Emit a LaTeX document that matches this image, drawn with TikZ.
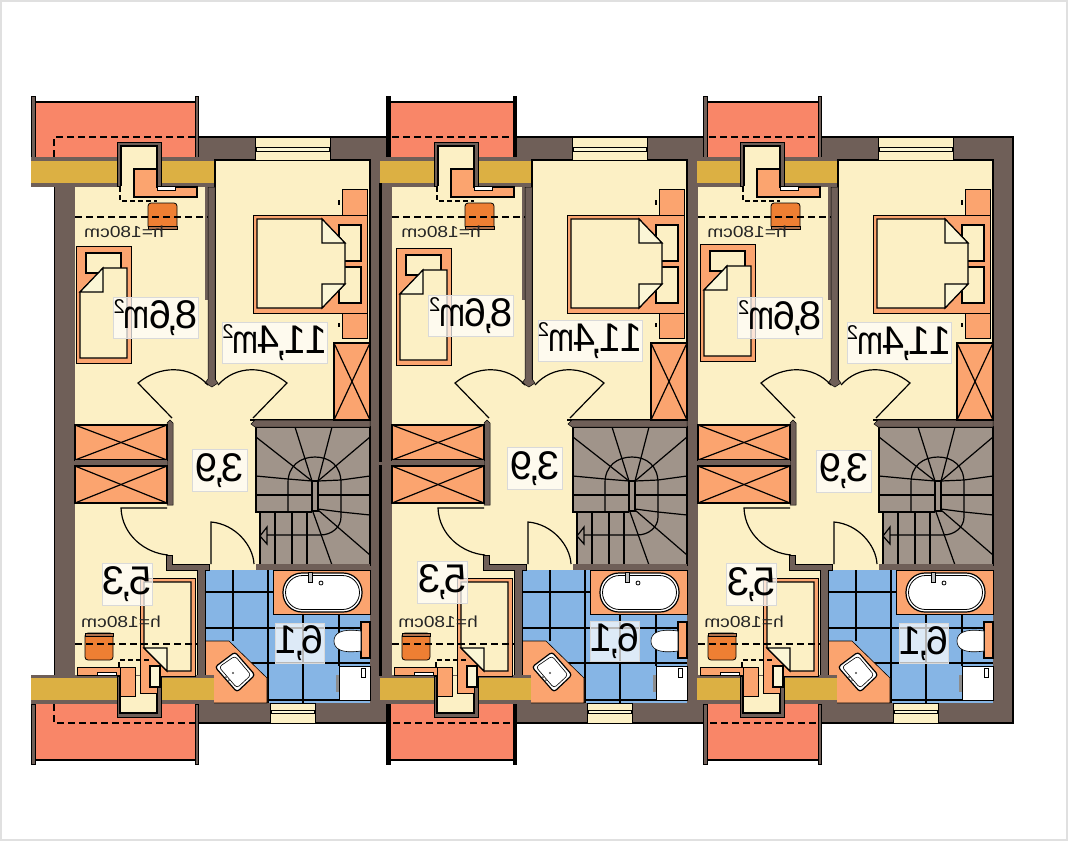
\documentclass[tikz,border=0pt]{standalone}
\usepackage{graphicx}
\usepackage{fontspec}
\setmainfont{Liberation Sans}
\definecolor{wallc}{HTML}{6F5F58}
\definecolor{creamc}{HTML}{FCF0C5}
\definecolor{foldc}{HTML}{FBF6D6}
\definecolor{salmonc}{HTML}{F98668}
\definecolor{goldc}{HTML}{DCB043}
\definecolor{orangec}{HTML}{FBA46F}
\definecolor{stovec}{HTML}{EE7F33}
\definecolor{bluec}{HTML}{86B5E5}
\definecolor{stairc}{HTML}{A0948A}
\tikzset{
  ln/.style={draw=black, line width=1.2pt},
  wallpart/.style={fill=wallc, draw=black, line width=.5pt},
  creampart/.style={fill=creamc, draw=black, line width=1.2pt},
  orangepart/.style={fill=orangec, draw=black, line width=1.2pt},
  dashline/.style={draw=black, line width=1.1pt, dash pattern=on 7pt off 4pt},
  areabox/.style={draw=black!15, line width=1pt, fill=white, fill opacity=.72, text opacity=1, inner sep=0pt},
  heightlabel/.style={inner sep=0pt, text=black!85}
}
\newcommand{\planc}{\kern-3.5pt\raisebox{-1.5pt}{,}\kern-3.5pt}
\newcommand{\areatext}[1]{\reflectbox{\fontsize{40}{40}\selectfont #1}}
\newcommand{\sqm}{\kern-1pt\scalebox{.78}[1]{m}\kern-1pt\raisebox{15pt}{\fontsize{20}{20}\selectfont 2}}
\newcommand{\heighttext}{\scalebox{-1.2}[1]{\fontsize{16}{16}\selectfont h=180cm}}

% balcony: left and right edge, post colour, left end of the dashes
\newcommand{\planbalcony}[4]{
  \fill[salmonc] (#1,102) rectangle (#2,160);
  \fill[salmonc] (#1,700) rectangle (#2,760);
  \draw[ln] (#1,102) -- (#2,102);
  \draw[ln] (#1,760) -- (#2,760);
  \draw[dashline] (#4,157) -- (#4,137) -- (#2,137);
  \draw[dashline] (#4,704) -- (#4,723) -- (#2,723);
  \draw[draw=black, line width=.5pt, fill=#3] (#1-4,96) rectangle (#1,157);
  \draw[draw=black, line width=.5pt, fill=#3] (#2,96) rectangle (#2+3,157);
  \draw[draw=black, line width=.5pt, fill=#3] (#1-4,704) rectangle (#1,764);
  \draw[draw=black, line width=.5pt, fill=#3] (#2,704) rectangle (#2+3,764);
}

% one dwelling: offset, band left edge, small bed dx, dy, big bed left dx
\newcommand{\planunit}[5]{
\begin{scope}[shift={(#1,0)}]
  % rooms
  \fill[creamc] (75,187) rectangle (205,676);
  \fill[creamc] (205,300) rectangle (370,570);
  \draw[creampart] (215,160) rectangle (370,420);
  \fill[creamc] (208,380) rectangle (250,430);
  \draw[wallpart] (208,187) -- (215,187) -- (215,379) -- (218,383) -- (212,387) -- (205,383) -- (208,379) -- cycle;

  % bathroom
  \fill[bluec] (205,570) rectangle (370,703);
  \draw[ln] (233,570) -- (233,641);
  \draw[ln] (268,570) -- (268,703);
  \draw[ln] (303,614) -- (303,703);
  \draw[ln] (339,614) -- (339,666);
  \draw[ln] (205,592) -- (273,592);
  \draw[ln] (205,628) -- (370,628);
  \draw[ln] (250,663) -- (370,663);
  \draw[ln] (267,700) -- (370,700);
  \draw[orangepart, line width=.6pt] (273,570) rectangle (370,614);
  \draw[ln, fill=white, rounded corners=19pt] (283,573) rectangle (362,612);
  \draw[draw=black, line width=.8pt, rounded corners=17pt] (285.5,575.5) rectangle (359.5,609.5);
  \draw[draw=black, line width=.5pt, fill=black!25] (308,572) rectangle (312,582);
  \draw[draw=black, line width=.8pt, fill=white] (321,583) circle (2);
  \draw[orangepart] (361,622) rectangle (370,658);
  \draw[draw=black, line width=.6pt, fill=white] (361,631) .. controls (340,628) and (334,634) .. (334,641) .. controls (334,648) and (340,654) .. (361,651) -- cycle;
  \draw[draw=black, line width=.8pt, fill=white] (339,666) rectangle (370,700);
  \draw[draw=black, line width=.6pt, fill=white] (361,668) rectangle (365,677);
  \fill[black!45] (336,675) rectangle (339,692);
  \draw[orangepart, line width=.6pt] (205,641) -- (229,641) -- (267,678) -- (267,703) -- (205,703) -- cycle;
  \draw[ln, fill=white, rounded corners=3pt] (215,667) -- (235,652) -- (255,675) -- (237,692) -- cycle;
  \draw[draw=black, line width=.6pt, rounded corners=3pt] (219,667) -- (235,656) -- (251,675) -- (237,688) -- cycle;
  \fill[black!70] (233,673) circle (1.2);
  \fill[black!70] (226,677) circle (1);
  \fill[black!70] (229,680) circle (1);

  % stairs
  \draw[ln, fill=stairc] (256,427) -- (370,427) -- (370,565) -- (260,565) -- (260,512) -- (256,512) -- cycle;
  \draw[ln] (256,512) -- (312,512);
  \draw[ln, fill=stairc] (312,481) rectangle (318,511);
  \draw[ln] (288,512) -- (288,483) .. controls (288,466) and (300,457) .. (315,457) .. controls (330,457) and (341,466) .. (341,483) -- (341,517) .. controls (341,527) and (332,535) .. (320,535) -- (267,535);
  \draw[ln] (260,536) -- (267,527) -- (267,544) -- cycle;
  \draw[ln] (312,481) -- (256,437);
  \draw[ln] (312,481) -- (295,427);
  \draw[ln] (318,481) -- (332,427);
  \draw[ln] (318,481) -- (370,437);
  \draw[ln] (312,481) -- (288,479) -- (256,476);
  \draw[ln] (318,481) -- (341,480) -- (370,476);
  \draw[ln] (256,495) -- (312,495);
  \draw[ln] (318,495) -- (370,495);
  \draw[ln] (318,509) -- (341,512) -- (370,515);
  \draw[ln] (318,510) -- (370,555);
  \draw[ln] (313,512) -- (332,565);
  \draw[ln] (275,512) -- (275,565);
  \draw[ln] (292,512) -- (292,565);
  \draw[ln] (307,512) -- (307,565);

  % inner walls and closets
  \draw[wallpart] (251,424) -- (255,420) -- (370,420) -- (370,427) -- (255,427) -- cycle;
  \fill[wallc] (256,564) rectangle (370,570);
  \draw[wallpart] (166,555) -- (172,555) -- (172,564) -- (209,564) -- (209,570) -- (205,570) -- (205,676) -- (197,676) -- (197,570) -- (166,570) -- cycle;
  \draw[wallpart] (167,423) -- (170,420) -- (173,423) -- (173,505) -- (167,505) -- cycle;
  \draw[orangepart] (75,425) rectangle (167,460);
  \draw[ln] (75,425) -- (167,460);
  \draw[ln] (75,460) -- (167,425);
  \fill[wallc] (75,460) rectangle (167,466);
  \draw[orangepart] (75,466) rectangle (167,503);
  \draw[ln] (75,466) -- (167,503);
  \draw[ln] (75,503) -- (167,466);
  \draw[orangepart] (334,343) rectangle (370,420);
  \draw[ln] (334,343) -- (370,420);
  \draw[ln] (334,420) -- (370,343);

  % doors
  \draw[ln] (208,385) .. controls (190,365) and (160,365) .. (138,383) -- (172,418);
  \draw[ln] (218,385) .. controls (236,365) and (265,365) .. (287,383) -- (253,418);
  \draw[ln] (167,508) -- (121,508) .. controls (122,535) and (145,553) .. (168,555);
  \draw[ln] (211,564) -- (211,522) .. controls (235,524) and (253,545) .. (254,564);

  % windows
  \draw[draw=black, line width=.6pt, fill=creamc] (255,137) rectangle (330,160);
  \draw[ln, line width=.9pt, fill=foldc] (256,147) rectangle (329,151);
  \draw[draw=black, line width=.6pt, fill=creamc] (270,703) rectangle (315,723);
  \draw[ln, line width=.9pt, fill=foldc] (271,710) rectangle (314,713);

  % bands under the balconies
  \fill[wallc] (#2,157) rectangle (214,187);
  \fill[goldc] (#2,161) rectangle (214,183);
  \fill[wallc] (#2,675) rectangle (214,704);
  \fill[goldc] (#2,678) rectangle (214,700);

  % upper dormer
  \draw[draw=black, line width=.7pt, fill=wallc] (117,142) rectangle (161,186);
  \fill[creamc] (121,146) rectangle (157,190);
  \draw[ln] (121,186) -- (121,146) -- (157,146) -- (157,186);
  \draw[orangepart] (134,169) -- (157,169) -- (157,187) -- (197,187) -- (197,197) -- (134,197) -- cycle;
  \draw[draw=black, line width=.6pt, fill=white] (157,186) rectangle (175,190);
  \draw[dashline, dash pattern=on 5pt off 3pt] (120,187) -- (120,201) -- (157,201);

  % lower dormer and bed
  \draw[orangepart, line width=.8pt] (77,667) rectangle (120,675);
  \draw[draw=black, line width=.5pt, fill=white] (97,672) rectangle (116,675);
  \draw[draw=black, line width=.7pt, fill=wallc] (117,676) rectangle (161,717);
  \fill[creamc] (120,676) rectangle (157,713);
  \draw[ln] (120,676) -- (120,713) -- (157,713) -- (157,676);
  \draw[orangepart, line width=.8pt] (120,667) rectangle (135,696);
  \draw[draw=black, line width=.8pt, fill=orangec] (140,578) -- (195,578) -- (195,676) -- (157,676) -- (157,693) -- (140,693) -- cycle;
  \draw[creampart] (144,582) -- (191,582) -- (191,671) -- (167,671) -- (144,648) -- cycle;
  \draw[ln, fill=foldc] (144,648) -- (167,648) -- (167,671) -- cycle;
  \draw[ln, fill=foldc] (150,666) rectangle (160,687);

  % big bed
  \draw[orangepart, line width=.8pt] (342,189) rectangle (367,215);
  \draw[orangepart, line width=.8pt] (342,313) rectangle (367,338);
  \draw[ln] (339,200) -- (339,205);
  \draw[ln] (339,323) -- (339,327);
  \draw[orangepart, line width=.8pt] (253+#5,215) rectangle (367,313);
  \draw[creampart] (339,225) rectangle (361,261);
  \draw[creampart] (339,267) rectangle (361,303);
  \draw[creampart] (257+#5,219) -- (322,219) -- (345,243) -- (345,284) -- (322,308) -- (257+#5,308) -- cycle;
  \draw[ln, fill=foldc] (322,219) -- (345,243) -- (322,243) -- cycle;
  \draw[ln, fill=foldc] (322,308) -- (345,284) -- (322,284) -- cycle;

  % small bed
  \begin{scope}[shift={(#3,#4)}]
    \draw[orangepart, line width=.8pt] (76,246) rectangle (131,363);
    \draw[creampart] (86,253) rectangle (121,273);
    \draw[creampart] (103,268) -- (127,268) -- (127,358) -- (80,358) -- (80,292) -- cycle;
    \draw[ln, fill=foldc] (80,292) -- (103,268) -- (103,292) -- cycle;
  \end{scope}

  % stoves
  \draw[draw=black, line width=.8pt, fill=stovec, rounded corners=3pt] (148,203) -- (177,203) -- (177,229) -- (148,229) -- cycle;
  \draw[draw=black, line width=.6pt, fill=orangec!70!black] (148,226) rectangle (177,229);
  \draw[draw=black, line width=.8pt, fill=stovec, rounded corners=3pt] (85,633) -- (113,633) -- (113,660) -- (85,660) -- cycle;
  \draw[draw=black, line width=.6pt, fill=orangec!70!black] (85,633) rectangle (113,636);

  % slope lines
  \draw[dashline] (75,217) -- (208,217);
  \draw[dashline] (75,644) -- (197,644);
  \draw[dashline, dash pattern=on 5pt off 3pt] (119,667) -- (119,660) -- (150,660);
  \node[heightlabel] (h#1a) at (124,232) {\heighttext};
  \node[heightlabel] (h#1b) at (121,622) {\heighttext};
\end{scope}
}

% room areas: id, dx, dy
\newcommand{\planareas}[3]{
  \begin{scope}[shift={(#2,#3)}]
    \node[areabox, minimum width=85pt, minimum height=41pt] (bed#1) at (155.5,317.5) {\areatext{8\planc 6\sqm}};
    \node[areabox, minimum width=104pt, minimum height=41pt] (master#1) at (275,342.5) {\areatext{1\kern-1pt 1\planc 4\sqm}};
    \node[areabox, minimum width=55pt, minimum height=42pt] (hall#1) at (219.5,470.5) {\areatext{3\planc 9}};
    \node[areabox, minimum width=50pt, minimum height=42pt] (store#1) at (127,584) {\areatext{5\planc 3}};
    \node[areabox, minimum width=49pt, minimum height=40pt] (bath#1) at (299.5,643) {\areatext{6\planc 1}};
  \end{scope}
}

\begin{document}
\begin{tikzpicture}[x=1pt, y=-1pt]
  \useasboundingbox (0,0) rectangle (1068,841);
  \fill[white] (0,0) rectangle (1068,841);
  \draw[black!12, line width=2pt] (1,1) rectangle (1067,840);

  % shell
  \fill[wallc] (54,137) rectangle (1013,723);
  \draw[black, line width=2pt] (197,137) -- (1013,137) -- (1013,723) -- (197,723);
  \draw[black, line width=.7pt] (54,186) -- (54,676);

  \planbalcony{35}{195}{wallc}{54}
  \planbalcony{390}{513}{black}{390}
  \planbalcony{707}{818}{wallc}{707}

  \planunit{0}{31}{0}{0}{0}
  \planunit{317}{63}{3}{2}{-3}
  \planunit{623}{74}{1}{-2}{-3}

  % party wall
  \fill[black] (379,183) rectangle (382,462);
  \fill[black] (379,465) rectangle (382,676);

  \planareas{A}{0}{0}
  \planareas{B}{315.5}{-2}
  \planareas{C}{624.5}{.5}
\end{tikzpicture}
\end{document}
